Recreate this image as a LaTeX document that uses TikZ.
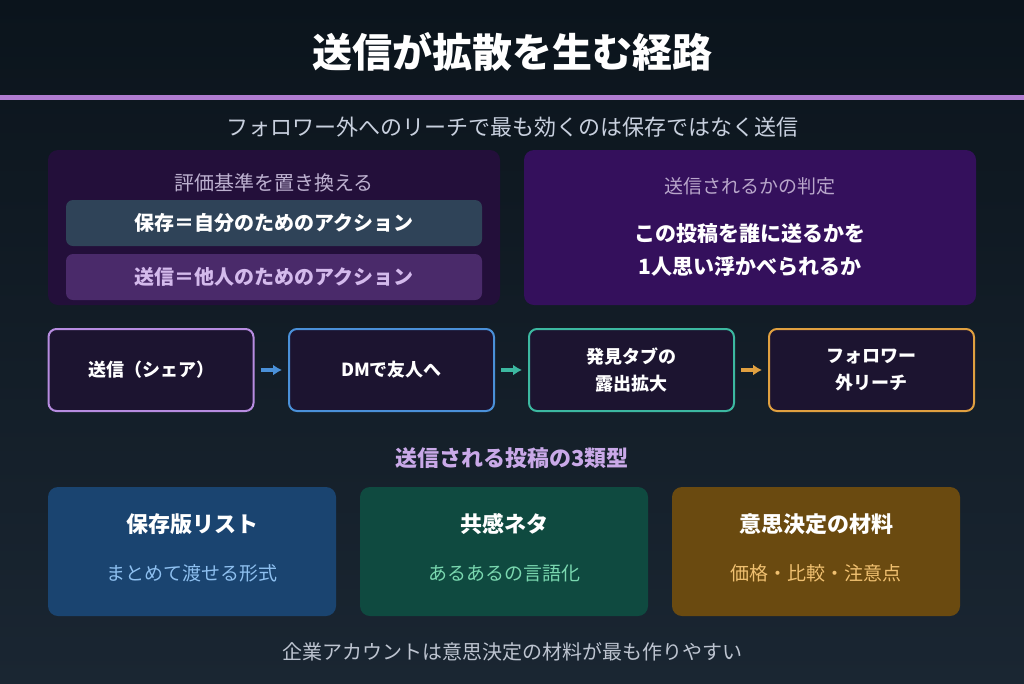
\documentclass[tikz,border=0pt]{standalone}
\usepackage{fontspec}
\setmainfont{Noto Sans CJK JP}
\usetikzlibrary{positioning,arrows.meta}
\definecolor{bgtop}{HTML}{0B141C}
\definecolor{bgbot}{HTML}{1A2632}
\definecolor{rule}{HTML}{B07CD0}
\definecolor{subtx}{HTML}{C8D0DE}
\definecolor{panelA}{HTML}{230F3A}
\definecolor{panelB}{HTML}{34105C}
\definecolor{saveb}{HTML}{2F4358}
\definecolor{sendb}{HTML}{4A2A6A}
\definecolor{flowf}{HTML}{1C1430}
\definecolor{cpurple}{HTML}{B78CE0}
\definecolor{cblue}{HTML}{4A90D8}
\definecolor{cteal}{HTML}{3CB8A0}
\definecolor{corange}{HTML}{E0A040}
\definecolor{cardA}{HTML}{1A4470}
\definecolor{cardB}{HTML}{0F4A40}
\definecolor{cardC}{HTML}{6A4A10}
\tikzset{
    box/.style={rounded corners=8pt, minimum height=82pt, minimum width=205pt,
        fill=flowf, line width=2pt, text=white, font=\fontsize{18}{27}\selectfont\bfseries, align=center},
    card/.style={rounded corners=10pt, minimum height=129pt, minimum width=288pt},
    flowarrow/.style={-{Latex[length=9pt,width=11pt]}, line width=4pt, shorten <=6pt, shorten >=6pt}
}
\begin{document}
\begin{tikzpicture}[x=1pt,y=-1pt]
    \shade[top color=bgtop, bottom color=bgbot] (0,0) rectangle (1024,683);
    \useasboundingbox (0,0) rectangle (1024,683);

    % title
    \node[text=white, font=\fontsize{40}{44}\selectfont\bfseries] (title) at (512,52) {送信が拡散を生む経路};
    \fill[rule] (0,95) rectangle (1024,100);
    \node[text=subtx, font=\fontsize{22}{26}\selectfont] (sub) at (512,127) {フォロワー外へのリーチで最も効くのは保存ではなく送信};

    % panels
    \fill[panelA, rounded corners=10pt] (48,150) rectangle (500,305);
    \node[text=subtx!85!violet, font=\fontsize{20}{24}\selectfont] (ptA) at (274,183) {評価基準を置き換える};
    \node[fill=saveb, rounded corners=7pt, minimum width=416pt, minimum height=46pt,
        text=white, font=\fontsize{20}{24}\selectfont\bfseries] (save) at (274,223) {保存＝自分のためのアクション};
    \node[fill=sendb, rounded corners=7pt, minimum width=416pt, minimum height=46pt,
        text=cpurple!60!white, font=\fontsize{20}{24}\selectfont\bfseries] (send) at (274,277) {送信＝他人のためのアクション};

    \fill[panelB, rounded corners=10pt] (524,150) rectangle (976,305);
    \node[text=subtx!80!violet, font=\fontsize{19}{22}\selectfont] (ptB) at (750,186) {送信されるかの判定};
    \node[text=white, font=\fontsize{21}{33}\selectfont\bfseries, align=center] (judge) at (750,250)
        {この投稿を誰に送るかを\\1人思い浮かべられるか};

    % flow
    \node[box, draw=cpurple] (f1) at (151,370) {送信（シェア）};
    \node[box, draw=cblue] (f2) at (391.5,370) {DMで友人へ};
    \node[box, draw=cteal] (f3) at (631.5,370) {発見タブの\\露出拡大};
    \node[box, draw=corange] (f4) at (871.5,370) {フォロワー\\外リーチ};
    \draw[flowarrow, cblue] (f1) -- (f2);
    \draw[flowarrow, cteal] (f2) -- (f3);
    \draw[flowarrow, corange] (f3) -- (f4);

    \node[text=cpurple!75!white, font=\fontsize{22}{26}\selectfont\bfseries] (types) at (512,458) {送信される投稿の3類型};

    % cards
    \node[card, fill=cardA] (c1) at (192,551.5) {};
    \node[card, fill=cardB] (c2) at (504,551.5) {};
    \node[card, fill=cardC] (c3) at (816,551.5) {};
    \foreach \c/\t/\s/\col in {c1/保存版リスト/まとめて渡せる形式/8EC0F0, c2/共感ネタ/あるあるの言語化/7AD8B0, c3/意思決定の材料/価格・比較・注意点/F0C070}{
        \node[text=white, font=\fontsize{22}{26}\selectfont\bfseries] at ([yshift=-37pt]\c.north) {\t};
        \definecolor{tmp}{HTML}{\col}
        \node[text=tmp, font=\fontsize{19}{22}\selectfont] at ([yshift=-22pt]\c.center) {\s};
    }

    \node[text=subtx!85!gray, font=\fontsize{20}{24}\selectfont] (foot) at (512,652) {企業アカウントは意思決定の材料が最も作りやすい};
\end{tikzpicture}
\end{document}
